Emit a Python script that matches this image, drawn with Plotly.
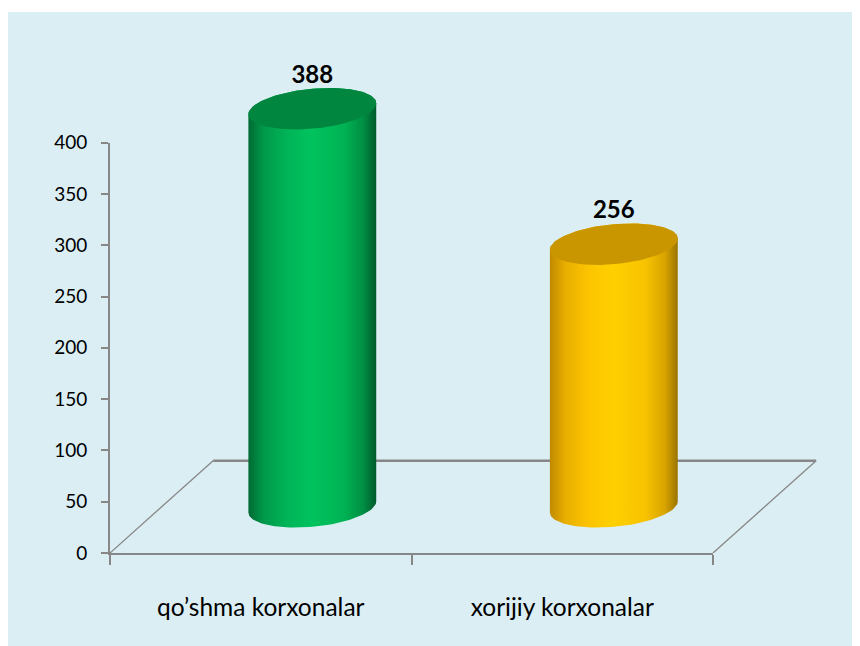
import numpy as np
import plotly.graph_objects as go

# ── data ──────────────────────────────────────────────────────────────
categories = ["qo\u2019shma korxonalar", "xorijiy korxonalar"]
values = [388, 256]
y_ticks = [0, 50, 100, 150, 200, 250, 300, 350, 400]

# ── look ──────────────────────────────────────────────────────────────
BG = "#DBEEF3"
AXIS = "#878787"
FONT = "Lato"
BODY_SCALES = [
    [[0, "#006A33"], [0.12, "#00994A"], [0.3, "#00B457"], [0.5, "#00C35E"],
     [0.75, "#00B253"], [0.9, "#008E43"], [1, "#005A2B"]],
    [[0, "#C08A00"], [0.12, "#E8AE00"], [0.3, "#FCC400"], [0.5, "#FFD000"],
     [0.75, "#F7C200"], [0.9, "#D8A400"], [1, "#9A7300"]],
]
TOP_COLORS = ["#00863F", "#C99600"]

# 3D box geometry (in axis units)
X_MAX, Y_MAX = 2.388, 500
DEPTH_X, DEPTH_Y = 0.342, 90
RX, RY, TILT = 0.212, 19.5, 5.4

fig = go.Figure()

t = np.linspace(0, 2 * np.pi, 121)
for i, (cat, v) in enumerate(zip(categories, values)):
    cx = i + 0.5 + DEPTH_X / 2
    base = DEPTH_Y / 2
    top = base + v
    # body: lower arc of bottom ellipse, then up and across the top ellipse
    tb = np.linspace(np.pi, 2 * np.pi, 61)
    tt = np.linspace(0, np.pi, 61)
    bx = cx + RX * np.cos(tb)
    by = base + RY * np.sin(tb) + TILT * np.cos(tb)
    ux = cx + RX * np.cos(tt)
    uy = top + RY * np.sin(tt) + TILT * np.cos(tt)
    fig.add_trace(go.Scatter(
        x=np.concatenate([bx, ux, bx[:1]]), y=np.concatenate([by, uy, by[:1]]),
        xaxis="x2", yaxis="y2", mode="lines", line=dict(width=0),
        fill="toself", fillgradient=dict(type="horizontal", colorscale=BODY_SCALES[i]),
        hoverinfo="skip", showlegend=False,
    ))
    fig.add_trace(go.Scatter(
        x=cx + RX * np.cos(t), y=top + RY * np.sin(t) + TILT * np.cos(t),
        xaxis="x2", yaxis="y2", mode="lines", line=dict(width=0),
        fill="toself", fillcolor=TOP_COLORS[i],
        hoverinfo="skip", showlegend=False,
    ))
    fig.add_trace(go.Scatter(
        x=[cx], y=[top + RY], xaxis="x2", yaxis="y2", mode="text",
        text=[f"<b>{v}</b>"], textposition="top center",
        textfont=dict(family=FONT, size=24, color="#000000"),
        hoverinfo="skip", showlegend=False, cliponaxis=False,
    ))

# dummy trace so the visible axes get drawn
fig.add_trace(go.Scatter(x=[0.5, 1.5], y=[0, 0], mode="markers",
                         marker=dict(opacity=0), hoverinfo="skip", showlegend=False))

# floor of the 3D box
n = len(categories)
floor = [
    ((0, 0), (DEPTH_X, DEPTH_Y), 1.3),
    ((n, 0), (n + DEPTH_X, DEPTH_Y), 1.3),
    ((DEPTH_X, DEPTH_Y), (n + DEPTH_X, DEPTH_Y), 2.5),
]
for (x0, y0), (x1, y1), w in floor:
    fig.add_shape(type="line", xref="x2", yref="y2", x0=x0, y0=y0, x1=x1, y1=y1,
                  line=dict(color=AXIS, width=w), layer="below")

# light-blue panel with a thin white margin on top
fig.add_shape(type="rect", xref="paper", yref="paper", layer="below",
              x0=-0.2, x1=1.1, y0=-0.25, y1=(545 - 4) / 513,
              fillcolor=BG, line=dict(width=0))

# page body has an 8px margin, so the figure is 852x638
fig.update_layout(
    width=852, height=638,
    margin=dict(l=102, r=30, t=32, b=93),
    paper_bgcolor="white", plot_bgcolor="rgba(0,0,0,0)",
    font=dict(family=FONT, color="#222222"),
    showlegend=False,
    xaxis=dict(domain=[0, n / X_MAX], range=[0, n], anchor="y",
               tickvals=[i + 0.5 for i in range(n)], ticktext=categories,
               ticks="", ticklabelstandoff=32, showgrid=False, zeroline=False,
               showline=True, linecolor=AXIS, linewidth=2,
               tickfont=dict(family=FONT, size=24.5, color="#000000"),
               minor=dict(tickvals=list(range(n + 1)), ticks="outside",
                          ticklen=10, tickwidth=2, tickcolor=AXIS, showgrid=False)),
    yaxis=dict(domain=[0, y_ticks[-1] / Y_MAX], range=[0, y_ticks[-1]], anchor="x",
               tickvals=y_ticks, ticks="outside", ticklen=7, tickwidth=2,
               tickcolor=AXIS, ticklabelstandoff=10, showgrid=False, zeroline=False,
               showline=True, linecolor=AXIS, linewidth=2,
               tickfont=dict(family=FONT, size=19, color="#000000")),
    xaxis2=dict(domain=[0, 1], range=[0, X_MAX], anchor="y2", visible=False),
    yaxis2=dict(domain=[0, 1], range=[0, Y_MAX], anchor="x2", visible=False),
)

fig.write_html("out.html")
